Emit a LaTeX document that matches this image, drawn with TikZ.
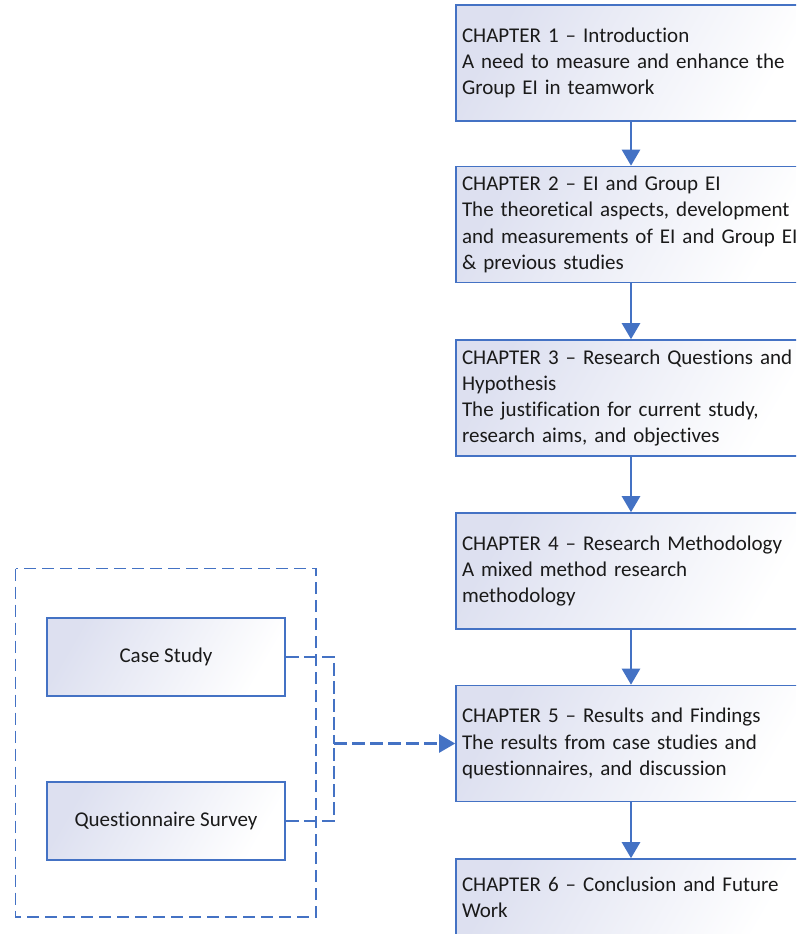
\documentclass[tikz,border=0pt]{standalone}
\usepackage{fontspec}
\setmainfont{Carlito}[Ligatures=NoCommon]
\usetikzlibrary{arrows.meta}
\definecolor{edge}{HTML}{4472C4}
\definecolor{lav}{HTML}{DDE0F0}
\definecolor{ink}{HTML}{1A1A1A}
\begin{document}
\begin{tikzpicture}[x=1pt,y=-1pt,
  chap/.style={draw=edge, line width=1.6pt, left color=lav, right color=white, shading angle=60,
    minimum width=350pt, minimum height=116pt, text width=350pt, inner xsep=0pt,
    align=left, font=\fontsize{21}{26.3}\selectfont, text=ink},
  method/.style={draw=edge, line width=1.6pt, left color=lav, right color=white, shading angle=60,
    minimum width=238pt, minimum height=78pt, align=center,
    font=\fontsize{21}{25}\selectfont, text=ink},
  flow/.style={draw=edge, line width=2.6pt, -{Triangle[length=16pt,width=18pt]}},
  link/.style={draw=edge, line width=2.2pt, dash pattern=on 13pt off 5pt},
  frame/.style={draw=edge, line width=1.6pt, dash pattern=on 12pt off 6pt}]
\useasboundingbox (0,0) rectangle (796,934);
\clip (0,0) rectangle (796,934);

% chapter sequence
\node[chap] (c1) at (631,63) {\hspace*{6pt}CHAPTER 1 -- Introduction\\\hspace*{6pt}A need to measure and enhance the\\\hspace*{6pt}Group EI in teamwork};
\node[chap] (c2) at (631,224.5) {\hspace*{6pt}CHAPTER 2 -- EI and Group EI\\\hspace*{6pt}The theoretical aspects, development\\\hspace*{6pt}and measurements of EI and Group EI\\\hspace*{6pt}\& previous studies};
\node[chap] (c3) at (631,398) {\hspace*{6pt}CHAPTER 3 -- Research Questions and\\\hspace*{6pt}Hypothesis\\\hspace*{6pt}The justification for current study,\\\hspace*{6pt}research aims, and objectives};
\node[chap] (c4) at (631,571) {\hspace*{6pt}CHAPTER 4 -- Research Methodology\\\hspace*{6pt}A mixed method research\\\hspace*{6pt}methodology};
\node[chap] (c5) at (631,743.5) {\hspace*{6pt}CHAPTER 5 -- Results and Findings\\\hspace*{6pt}The results from case studies and\\\hspace*{6pt}questionnaires, and discussion};
\node[chap, minimum height=77pt] (c6) at (631,897.5) {\hspace*{6pt}CHAPTER 6 -- Conclusion and Future\\\hspace*{6pt}Work};

\draw[flow] (c1) -- (c2);
\draw[flow] (c2) -- (c3);
\draw[flow] (c3) -- (c4);
\draw[flow] (c4) -- (c5);
\draw[flow] (c5) -- (c6);

% research methods group
\draw[frame] (15.5,568.5) rectangle (316,917);
\node[method] (cs) at (166,657) {Case Study};
\node[method] (qs) at (166,821) {Questionnaire Survey};

\coordinate (j) at (334,743.5);
\draw[link] (cs.east) -| (j);
\draw[link] (qs.east) -| (j);
\draw[link, -{Triangle[length=16pt,width=18pt]}] (j) -- (c5.west);
\end{tikzpicture}
\end{document}
